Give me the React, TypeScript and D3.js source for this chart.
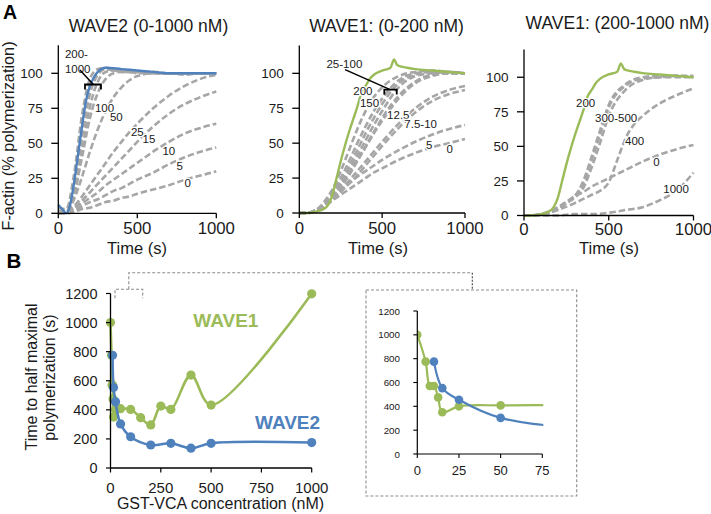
import React from "react";
import * as d3 from "d3";

const FONT = "'Liberation Sans', Arial, Helvetica, sans-serif";
const GRAY = "#A6A6A6";
const BLUE = "#4F81BD";
const GREEN = "#9BBB59";
const INK = "#1A1A1A";

// ---------- Panel A data (time in s, F-actin %) ----------
const TIME = [0, 50, 100, 150, 200, 250, 300, 350, 400, 450, 500, 600, 700, 800, 900, 1000];
const Y_TICKS_A = [0, 25, 50, 75, 100];
const X_TICKS_A = [0, 500, 1000];

// A1: WAVE2 (0-1000 nM)
const W2_BLUE_TIME = [0, 25, 50, 75, 100, 125, 150, 175, 200, 225, 250, 300, 400, 500, 600, 700, 800, 900, 1000];
const W2_BLUE = [6, 3, 0, 6, 22, 42, 62, 80, 91, 97, 101, 104, 103, 102, 101, 100, 100, 100, 100];
const W2_0 = [0, 0, 1, 3, 4, 6, 8, 9, 11, 12, 14, 17, 20, 24, 27, 30];
const W2_5 = [0, 0, 2, 5, 8, 10, 13, 16, 18, 21, 24, 29, 35, 40, 44, 47];
const W2_10 = [0, 0, 3, 7, 11, 15, 20, 24, 28, 32, 36, 44, 51, 57, 61, 64];
const W2_15 = [0, 0, 4, 9, 15, 21, 27, 33, 39, 45, 51, 62, 71, 78, 83, 87];
const W2_25 = [0, 1, 5, 12, 20, 28, 36, 44, 51, 58, 64, 75, 84, 91, 96, 99];
const W2_50 = [0, 1, 10, 26, 44, 60, 73, 83, 90, 95, 98, 100, 100, 100, 100, 100];
const W2_100 = [1, 1, 14, 40, 68, 86, 96, 100, 101, 101, 101, 100, 100, 100, 100, 100];
const W2_200 = [4, 3, 28, 70, 96, 103, 104, 103, 102, 102, 101, 101, 100, 100, 100, 100];
const W2_500 = [2, 1, 18, 54, 85, 99, 103, 102, 102, 101, 101, 100, 100, 100, 100, 100];
const W2_1000 = [1, 1, 12, 44, 76, 94, 101, 102, 101, 101, 100, 100, 100, 99, 100, 100];

// WAVE1 200 nM trace (shown in A2 and A3)
const W1_200_TIME = [0, 50, 100, 150, 175, 200, 225, 250, 275, 300, 325, 350, 375, 400, 425, 450, 500, 550, 572, 590, 610, 650, 700, 800, 900, 1000];
const W1_200 = [0, 0, 1, 3, 6, 13, 25, 37, 48, 58, 67, 76, 86, 91, 96, 99, 102, 104, 110, 106, 105, 104, 103, 102, 101, 100];

// A2: WAVE1 (0-200 nM)
const W1_0 = [0, 0, 2, 5, 9, 13, 17, 21, 25, 29, 32, 38, 43, 47, 50, 53];
const W1_5 = [0, 0, 2, 6, 11, 16, 21, 26, 30, 34, 38, 45, 51, 56, 60, 63];
const W1_7_5 = [0, 0, 2, 5, 9, 15, 21, 27, 34, 41, 48, 61, 72, 80, 85, 88];
const W1_10 = [0, 0, 2, 5, 10, 16, 23, 30, 37, 44, 51, 64, 75, 83, 88, 91];
const W1_12_5 = [0, 0, 2, 6, 12, 20, 29, 38, 48, 58, 68, 84, 94, 99, 100, 100];
const W1_15 = [0, 0, 2, 5, 10, 18, 27, 37, 47, 57, 66, 82, 93, 98, 100, 100];
const W1_25 = [0, 0, 2, 5, 11, 20, 30, 41, 52, 63, 73, 90, 98, 100, 101, 100];
const W1_50 = [0, 0, 2, 6, 12, 22, 33, 45, 57, 68, 78, 93, 99, 101, 101, 100];
const W1_100 = [0, 0, 2, 6, 14, 25, 37, 50, 62, 73, 82, 95, 100, 101, 101, 100];
const W1_150 = [0, 0, 2, 8, 17, 30, 45, 60, 73, 83, 90, 98, 101, 102, 101, 100];

// A3: WAVE1 (200-1000 nM)
const W1B_0 = [0, 0, 1, 3, 6, 10, 14, 17, 21, 24, 27, 33, 39, 44, 48, 51];
const W1B_250 = [0, 0, 1, 2, 5, 9, 14, 25, 43, 62, 80, 95, 100, 101, 101, 101];
const W1B_300 = [0, 0, 1, 2, 5, 9, 14, 23, 40, 59, 78, 94, 99, 100, 101, 100];
const W1B_500 = [0, 0, 1, 2, 5, 9, 13, 20, 35, 53, 72, 91, 98, 100, 100, 100];
const W1B_400_TIME = [0, 100, 200, 300, 400, 450, 500, 550, 600, 650, 700, 750, 800, 900, 1000];
const W1B_400 = [0, 1, 4, 9, 15, 18, 24, 40, 56, 66, 72, 77, 81, 87, 92];
const W1B_1000_TIME = [0, 200, 300, 400, 500, 600, 700, 800, 850, 900, 950, 1000];
const W1B_1000 = [0, 0, 1, 1, 2, 4, 6, 11, 14, 18, 24, 31];

// ---------- Panel B data (GST-VCA nM, time to half max s) ----------
const CONC_W1 = [0, 5, 7.5, 10, 12.5, 15, 25, 50, 100, 150, 200, 250, 300, 400, 500, 1000];
const THALF_W1 = [1000, 775, 571, 571, 475, 350, 400, 408, 403, 346, 296, 426, 403, 639, 433, 1198];
const CONC_W2 = [10, 15, 25, 50, 100, 200, 300, 400, 500, 1000];
const THALF_W2 = [775, 553, 455, 303, 215, 158, 170, 136, 170, 175];
const Y_TICKS_B = [0, 200, 400, 600, 800, 1000, 1200];
const X_TICKS_B = [0, 250, 500, 750, 1000];
const X_TICKS_INSET = [0, 25, 50, 75];

type Series = { t: number[]; v: number[]; color: string; dashed: boolean };
type Label = { text: string; t: number; v: number };

const zip = (a: number[], b: number[]) => a.map((d, i) => [d, b[i]] as [number, number]);

function PanelA(props: {
  xr: [number, number];
  yr: [number, number];
  title: string;
  titleX: number;
  titleY: number;
  xTitleX: number;
  tickDy: number;
  series: Series[];
  labels: Label[];
  leader: [number, number][];
  bracket: { t0: number; t1: number; v: number; v2: number } | null;
}) {
  const { xr, yr, series, labels, leader, bracket } = props;
  const x = d3.scaleLinear().domain([0, 1000]).range(xr);
  const y = d3.scaleLinear().domain([0, 120]).range(yr);
  const line = d3
    .line<[number, number]>()
    .x((d) => x(d[0]))
    .y((d) => y(d[1]))
    .curve(d3.curveMonotoneX);
  const x0 = xr[0];
  const y0 = yr[0];
  return (
    <g>
      <text x={props.titleX} y={props.titleY} textAnchor="middle" fontSize={17.5} fill={INK}>
        {props.title}
      </text>
      {series.map((s, i) => (
        <path
          key={i}
          d={line(zip(s.t, s.v)) || ""}
          fill="none"
          stroke={s.color}
          strokeWidth={s.dashed ? 2.6 : 2.4}
          strokeDasharray={s.dashed ? "6.5,3" : undefined}
          strokeLinejoin="round"
        />
      ))}
      {labels.map((l, i) => (
        <text
          key={i}
          x={x(l.t)}
          y={y(l.v)}
          fontSize={11.5}
          fill={INK}
          stroke="#fff"
          strokeWidth={2.5}
          paintOrder="stroke"
        >
          {l.text}
        </text>
      ))}
      {leader.length > 0 && (
        <line
          x1={x(leader[0][0])}
          y1={y(leader[0][1])}
          x2={x(leader[1][0])}
          y2={y(leader[1][1])}
          stroke="#000"
          strokeWidth={1.5}
        />
      )}
      {bracket && (
        <path
          d={`M${x(bracket.t0)},${y(bracket.v2)}V${y(bracket.v)}H${x(bracket.t1)}V${y(bracket.v2)}`}
          fill="none"
          stroke="#000"
          strokeWidth={1.8}
        />
      )}
      {/* axes */}
      <line x1={x0} y1={yr[1]} x2={x0} y2={y0} stroke="#000" strokeWidth={1.3} />
      <line x1={x0} y1={y0} x2={xr[1]} y2={y0} stroke="#000" strokeWidth={1.3} />
      {Y_TICKS_A.map((t) => (
        <g key={"y" + t}>
          <line x1={x0 - 7} x2={x0} y1={y(t)} y2={y(t)} stroke="#000" strokeWidth={1.3} />
          <text x={x0 - 15.5} y={y(t)} dy="0.36em" textAnchor="end" fontSize={13.5} fill={INK}>
            {t}
          </text>
        </g>
      ))}
      {X_TICKS_A.map((t) => (
        <g key={"x" + t}>
          <line x1={x(t)} x2={x(t)} y1={y0} y2={y0 + 5} stroke="#000" strokeWidth={1.3} />
          <text x={x(t)} y={y0 + props.tickDy} textAnchor="middle" fontSize={16.8} fill={INK}>
            {t}
          </text>
        </g>
      ))}
      <text x={props.xTitleX} y={253.5} textAnchor="middle" fontSize={16.5} fill={INK}>
        Time (s)
      </text>
    </g>
  );
}

export default function App() {
  const g = (t: number[], v: number[]): Series => ({ t, v, color: GRAY, dashed: true });

  const a1Series: Series[] = [
    g(TIME, W2_0),
    g(TIME, W2_5),
    g(TIME, W2_10),
    g(TIME, W2_15),
    g(TIME, W2_25),
    g(TIME, W2_50),
    g(TIME, W2_100),
    g(TIME, W2_200),
    g(TIME, W2_500),
    g(TIME, W2_1000),
    { t: W2_BLUE_TIME, v: W2_BLUE, color: BLUE, dashed: false },
  ];
  const a2Series: Series[] = [
    g(TIME, W1_0),
    g(TIME, W1_5),
    g(TIME, W1_7_5),
    g(TIME, W1_10),
    g(TIME, W1_12_5),
    g(TIME, W1_15),
    g(TIME, W1_25),
    g(TIME, W1_50),
    g(TIME, W1_100),
    g(TIME, W1_150),
    { t: W1_200_TIME, v: W1_200, color: GREEN, dashed: false },
  ];
  const a3Series: Series[] = [
    g(TIME, W1B_0),
    g(TIME, W1B_250),
    g(TIME, W1B_300),
    g(TIME, W1B_500),
    g(W1B_400_TIME, W1B_400),
    g(W1B_1000_TIME, W1B_1000),
    { t: W1_200_TIME, v: W1_200, color: GREEN, dashed: false },
  ];

  // Panel B scales
  const xB = d3.scaleLinear().domain([0, 1000]).range([110.5, 311.7]);
  const yB = d3.scaleLinear().domain([0, 1200]).range([468, 293.5]);
  const xI = d3.scaleLinear().domain([0, 75]).range([417.3, 542.3]);
  const yI = d3.scaleLinear().domain([0, 1200]).range([454, 311]);
  const smooth = d3.curveCatmullRom.alpha(0.5);
  const lineB = d3.line<[number, number]>().x((d) => xB(d[0])).y((d) => yB(d[1])).curve(smooth);
  const lineI = d3.line<[number, number]>().x((d) => xI(d[0])).y((d) => yI(d[1])).curve(smooth);
  const w1 = zip(CONC_W1, THALF_W1);
  const w2 = zip(CONC_W2, THALF_W2);

  return (
    <svg
      width={711}
      height={514}
      viewBox="0 0 711 514"
      style={{ position: "absolute", left: 0, top: 0, background: "#fff" }}
      fontFamily={FONT}
    >
      <rect x={0} y={0} width={711} height={514} fill="#fff" />
      <text x={3} y={18.5} fontSize={19.5} fontWeight="bold" fill="#000">A</text>
      <text x={6.5} y={268} fontSize={20.5} fontWeight="bold" fill="#000">B</text>

      <text
        transform="translate(13.5,136) rotate(-90)"
        textAnchor="middle"
        fontSize={16.3}
        fill={INK}
      >
        F-actin (% polymerization)
      </text>

      <PanelA
        xr={[58.3, 216.3]}
        yr={[213.3, 45.3]}
        title="WAVE2 (0-1000 nM)"
        titleX={148.5}
        titleY={31.5}
        xTitleX={137}
        tickDy={20.5}
        series={a1Series}
        labels={[
          { text: "200-", t: 42, v: 110.9 },
          { text: "1000", t: 42, v: 100.2 },
          { text: "100", t: 232, v: 72.7 },
          { text: "50", t: 327, v: 65.6 },
          { text: "25", t: 460, v: 54.9 },
          { text: "15", t: 533, v: 50.2 },
          { text: "10", t: 659, v: 41.6 },
          { text: "5", t: 748, v: 30.9 },
          { text: "0", t: 799, v: 19.1 },
        ]}
        leader={[
          [137, 102.4],
          [222, 92],
        ]}
        bracket={{ t0: 169, t1: 270, v: 92, v2: 88.4 }}
      />
      <PanelA
        xr={[299.3, 465]}
        yr={[213, 45.4]}
        title="WAVE1: (0-200 nM)"
        titleX={386.5}
        titleY={31.5}
        xTitleX={378}
        tickDy={20.5}
        series={a2Series}
        labels={[
          { text: "25-100", t: 164, v: 103.8 },
          { text: "200", t: 326, v: 84.5 },
          { text: "150", t: 366, v: 76.2 },
          { text: "12.5", t: 530, v: 67.3 },
          { text: "7.5-10", t: 634, v: 60.8 },
          { text: "5", t: 765, v: 45.5 },
          { text: "0", t: 888, v: 43.3 },
        ]}
        leader={[
          [276, 102.7],
          [552, 88.2],
        ]}
        bracket={{ t0: 513, t1: 588, v: 88.4, v2: 84.8 }}
      />
      <PanelA
        xr={[524, 693.5]}
        yr={[215.5, 49.6]}
        title="WAVE1: (200-1000 nM)"
        titleX={617.5}
        titleY={28.5}
        xTitleX={609}
        tickDy={19.5}
        series={a3Series}
        labels={[
          { text: "200", t: 307, v: 78.5 },
          { text: "300-500", t: 419, v: 67.3 },
          { text: "400", t: 596, v: 51 },
          { text: "0", t: 763, v: 35.5 },
          { text: "1000", t: 822, v: 16.6 },
        ]}
        leader={[]}
        bracket={null}
      />

      {/* ---------- Panel B main ---------- */}
      <text transform="translate(36.5,377) rotate(-90)" textAnchor="middle" fontSize={16} fill={INK}>
        Time to half maximal
      </text>
      <text transform="translate(54.5,377.5) rotate(-90)" textAnchor="middle" fontSize={16} fill={INK}>
        polymerization (s)
      </text>

      <path d={lineB(w1) || ""} fill="none" stroke={GREEN} strokeWidth={2.6} />
      {w1.map((d, i) => (
        <circle key={"g" + i} cx={xB(d[0])} cy={yB(d[1])} r={4.6} fill={GREEN} />
      ))}
      <path d={lineB(w2) || ""} fill="none" stroke={BLUE} strokeWidth={2.6} />
      {w2.map((d, i) => (
        <circle key={"b" + i} cx={xB(d[0])} cy={yB(d[1])} r={4.6} fill={BLUE} />
      ))}

      <line x1={xB(0)} x2={xB(0)} y1={yB(1200)} y2={yB(0)} stroke="#000" strokeWidth={1.3} />
      <line x1={xB(0)} x2={xB(1000)} y1={yB(0)} y2={yB(0)} stroke="#000" strokeWidth={1.3} />
      {Y_TICKS_B.map((t) => (
        <g key={"by" + t}>
          <line x1={xB(0) - 4.5} x2={xB(0)} y1={yB(t)} y2={yB(t)} stroke="#000" strokeWidth={1.2} />
          <text x={97.5} y={yB(t)} dy="0.36em" textAnchor="end" fontSize={14.5} fill={INK}>
            {t}
          </text>
        </g>
      ))}
      {X_TICKS_B.map((t) => (
        <g key={"bx" + t}>
          <line x1={xB(t)} x2={xB(t)} y1={yB(0)} y2={yB(0) + 4.5} stroke="#000" strokeWidth={1.2} />
          <text x={xB(t)} y={493} textAnchor="middle" fontSize={15} fill={INK}>
            {t}
          </text>
        </g>
      ))}
      <text x={220.5} y={509} textAnchor="middle" fontSize={16} fill={INK}>
        GST-VCA concentration (nM)
      </text>
      <text x={193.3} y={326.5} fontSize={19} fontWeight="bold" fill={GREEN}>WAVE1</text>
      <text x={255} y={428.5} fontSize={19} fontWeight="bold" fill={BLUE}>WAVE2</text>

      {/* zoom bracket + connector */}
      <path
        d="M115,298.3V289.3H142.7V298.3M128.8,289.3V272.7H472.3"
        fill="none"
        stroke="#8C8C8C"
        strokeWidth={1.1}
        strokeDasharray="3,2"
      />
      <path d="M472.3,272.7V290" fill="none" stroke="#444" strokeWidth={1.1} strokeDasharray="2,1.5" />
      <rect
        x={366}
        y={290}
        width={210.7}
        height={206}
        fill="none"
        stroke="#8C8C8C"
        strokeWidth={1.1}
        strokeDasharray="3,2"
      />

      {/* ---------- Inset ---------- */}
      <defs>
        <clipPath id="insetClip">
          <rect x={417.3} y={300} width={126} height={160} />
        </clipPath>
      </defs>
      <g clipPath="url(#insetClip)">
        <path d={lineI(w1) || ""} fill="none" stroke={GREEN} strokeWidth={2.2} />
        {w1
          .filter((d) => d[0] <= 75)
          .map((d, i) => (
            <circle key={"ig" + i} cx={xI(d[0])} cy={yI(d[1])} r={4.3} fill={GREEN} />
          ))}
        <path d={lineI(w2) || ""} fill="none" stroke={BLUE} strokeWidth={2.2} />
        {w2
          .filter((d) => d[0] <= 75)
          .map((d, i) => (
            <circle key={"ib" + i} cx={xI(d[0])} cy={yI(d[1])} r={4.3} fill={BLUE} />
          ))}
      </g>
      <line x1={xI(0)} x2={xI(0)} y1={yI(1200)} y2={yI(0)} stroke="#000" strokeWidth={1.2} />
      <line x1={xI(0)} x2={xI(75)} y1={yI(0)} y2={yI(0)} stroke="#000" strokeWidth={1.2} />
      {Y_TICKS_B.map((t) => (
        <g key={"iy" + t}>
          <line x1={xI(0) - 4} x2={xI(0)} y1={yI(t)} y2={yI(t)} stroke="#000" strokeWidth={1.1} />
          <text x={400} y={yI(t)} dy="0.36em" textAnchor="end" fontSize={9.8} fill={INK}>
            {t}
          </text>
        </g>
      ))}
      {X_TICKS_INSET.map((t) => (
        <g key={"ix" + t}>
          <line x1={xI(t)} x2={xI(t)} y1={yI(0)} y2={yI(0) + 4} stroke="#000" strokeWidth={1.1} />
          <text x={xI(t)} y={475} textAnchor="middle" fontSize={13} fill={INK}>
            {t}
          </text>
        </g>
      ))}
    </svg>
  );
}
